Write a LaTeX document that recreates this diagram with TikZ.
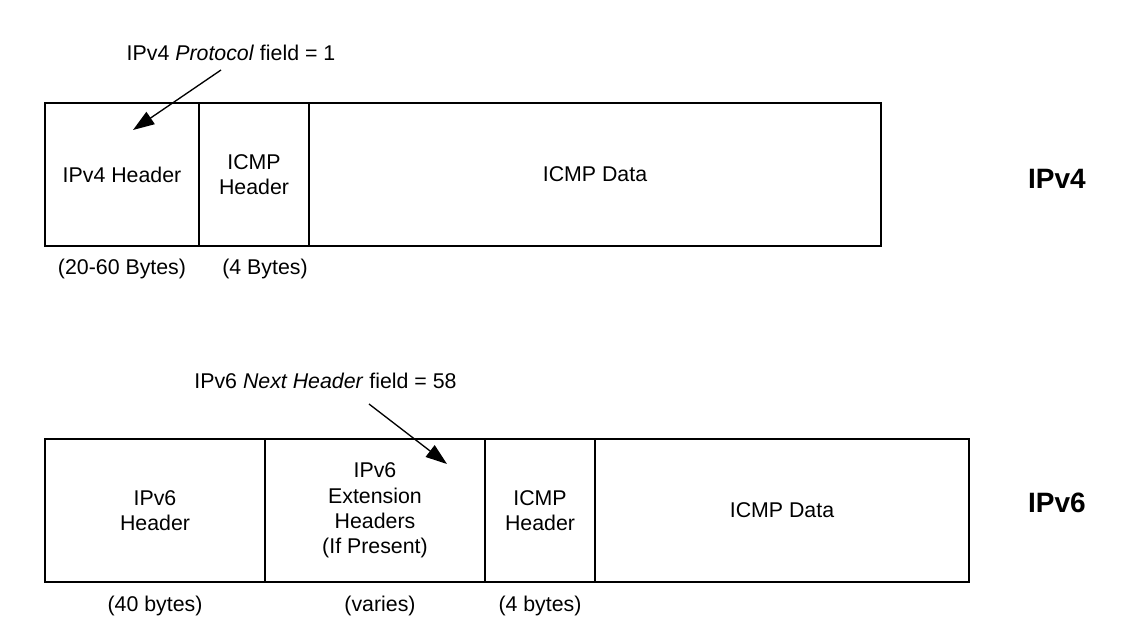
\documentclass[tikz,border=0pt]{standalone}
\usepackage{fontspec}
\setmainfont{Liberation Sans}
\usetikzlibrary{positioning,arrows.meta}

\tikzset{
    cell/.style={draw,
        line width=1.2pt,
        minimum height=107.25pt,
        inner sep=0pt,
        outer sep=0pt,
        align=center,
        font=\fontsize{16}{19}\selectfont
    },
    note/.style={font=\fontsize{16}{19}\selectfont},
    proto/.style={font=\fontsize{21}{24}\selectfont\bfseries},
    pointer/.style={-{Triangle[length=16pt,width=11pt]}, line width=1pt}
}

\begin{document}
\begin{tikzpicture}[x=0.75pt,y=-0.75pt]

    \useasboundingbox (0,0) rectangle (1131,639);

    % IPv4 packet
    \node[cell, minimum width=115.5pt, anchor=north west] (v4hdr) at (45,103){IPv4 Header};
    \node[cell, minimum width=82.5pt, right=0pt of v4hdr] (v4icmp){ICMP\\Header};
    \node[cell, minimum width=429pt, right=0pt of v4icmp] (v4data){ICMP Data};

    \node[note] (v4hdrlen) at (122,269){(20-60 Bytes)};
    \node[note] (v4icmplen) at (265,269){(4 Bytes)};
    \node[proto] (v4name) at (1057,179){IPv4};

    \node[note] (v4field) at (231,53){IPv4 \textit{Protocol} field = 1};
    \coordinate (v4from) at (221,70);
    \coordinate (v4to) at (133,130);
    \draw[pointer] (v4from) -- (v4to);

    % IPv6 packet
    \node[cell, minimum width=165pt, anchor=north west] (v6hdr) at (45,439){IPv6\\Header};
    \node[cell, minimum width=165pt, right=0pt of v6hdr] (v6ext){IPv6\\Extension\\Headers\\(If Present)};
    \node[cell, minimum width=82.5pt, right=0pt of v6ext] (v6icmp){ICMP\\Header};
    \node[cell, minimum width=280.5pt, right=0pt of v6icmp] (v6data){ICMP Data};

    \node[note] (v6hdrlen) at (155,606){(40 bytes)};
    \node[note] (v6extlen) at (380,606){(varies)};
    \node[note] (v6icmplen) at (540,606){(4 bytes)};
    \node[proto] (v6name) at (1057,503){IPv6};

    \node[note] (v6field) at (325.5,381){IPv6 \textit{Next Header} field = 58};
    \coordinate (v6from) at (369,404);
    \coordinate (v6to) at (447,464);
    \draw[pointer] (v6from) -- (v6to);

\end{tikzpicture}
\end{document}
